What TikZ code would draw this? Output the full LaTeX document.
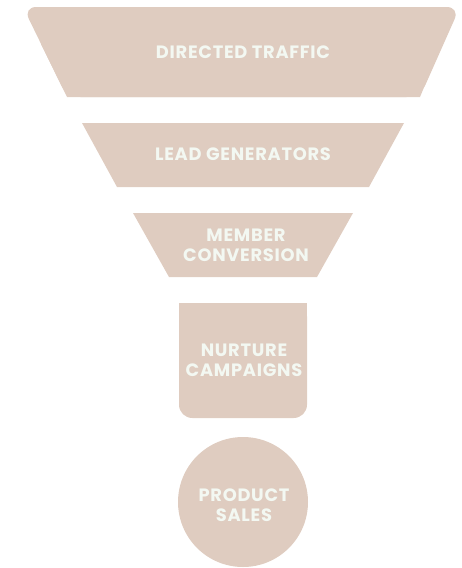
\documentclass[tikz,border=0pt]{standalone}
\usepackage{fontspec}
\setmainfont{Poppins}[LetterSpace=4]
\begin{document}
\definecolor{sand}{RGB}{223,204,192}
\definecolor{cream}{RGB}{243,248,242}
\begin{tikzpicture}[x=0.75pt,y=-0.75pt,
  stage/.style={fill=sand},
  label/.style={text=cream,font=\bfseries\fontsize{13.4}{15}\selectfont,align=center,inner sep=0pt}]
\useasboundingbox (0,0) rectangle (461,568);
% level 1: wide trapezoid, rounded top corners
\fill[stage,rounded corners=10] (67,97) -- (23,7) -- (460,7) -- (420,97) -- cycle;
\fill[stage] (67,97) -- (41,44) -- (442,44) -- (420,97) -- cycle;
% level 2
\fill[stage] (82,123) -- (404,123) -- (369,187) -- (117,187) -- cycle;
% level 3
\fill[stage] (133,213) -- (353,213) -- (317,277) -- (169,277) -- cycle;
% level 4: box with rounded bottom corners
\fill[stage,rounded corners=10] (179,303) rectangle (307,418);
\fill[stage] (179,303) rectangle (307,380);
% level 5: circle
\fill[stage] (243,502) circle[radius=65];
% labels
\node[label] (traffic) at (243,52) {DIRECTED TRAFFIC};
\node[label] (leads) at (243,154) {LEAD GENERATORS};
\node[label] (member) at (246,245) {MEMBER\\CONVERSION};
\node[label] (nurture) at (244,360) {NURTURE\\CAMPAIGNS};
\node[label] (sales) at (244,505) {PRODUCT\\SALES};
\end{tikzpicture}
\end{document}
